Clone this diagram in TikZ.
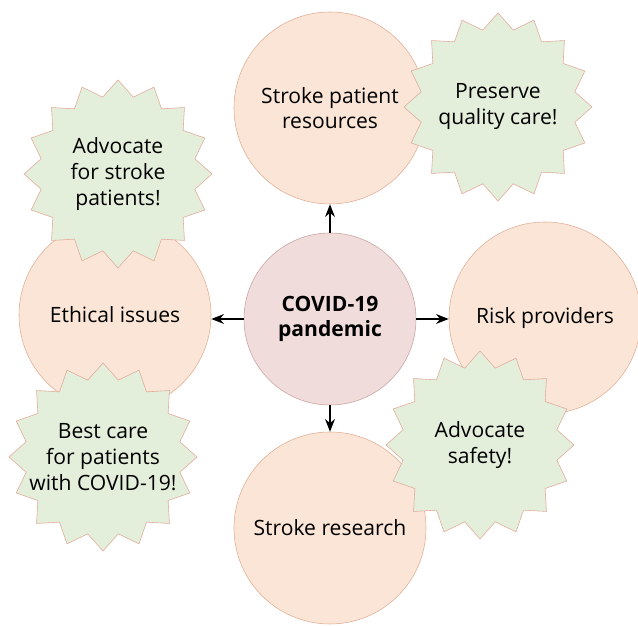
\documentclass[tikz,border=0pt]{standalone}
\usepackage{fontspec}
\setmainfont{Open Sans}
\usepackage{xcolor}
\usetikzlibrary{shapes.geometric, arrows.meta, positioning}

\definecolor{peachfill}{HTML}{FBE5D6}
\definecolor{peachline}{HTML}{E0AE95}
\definecolor{rosefill}{HTML}{F0DCDA}
\definecolor{roseline}{HTML}{C9A3A0}
\definecolor{leaffill}{HTML}{E3EEDB}
\definecolor{leafline}{HTML}{E2AA98}

\tikzset{
    topic/.style={circle, draw=peachline, fill=peachfill, minimum size=4.8cm, inner sep=0pt, align=center, font=\fontsize{15}{18}\selectfont},
    hub/.style={circle, draw=roseline, fill=rosefill, minimum size=4.3cm, inner sep=0pt, align=center, font=\fontsize{15}{18}\selectfont\bfseries},
    burst/.style={star, star points=16, star point ratio=1.2, draw=leafline, fill=leaffill, minimum size=4.7cm, inner sep=0pt},
    burstnote/.style={align=center, inner sep=0pt, font=\fontsize{15}{18.5}\selectfont},
    link/.style={-{Stealth[length=9pt, width=7pt]}, line width=0.9pt}
}

\begin{document}
\begin{tikzpicture}
    \useasboundingbox (0,0) rectangle (15.95,15.65);

    % Central topic
    \node[hub] (pandemic) at (8.25, 7.675) {COVID-19\\pandemic};

    % Surrounding topics
    \node[topic] (resources) at (8.25, 12.95) {Stroke patient\\resources};
    \node[topic] (ethics) at (2.875, 7.775) {Ethical issues};
    \node[topic] (risk) at (13.625, 7.7) {Risk providers};
    \node[topic] (research) at (8.25, 2.45) {Stroke research};

    % Call-outs (star first, text on top)
    \node[burst] (quality) at (12.45, 12.975) {};
    \node[burstnote] (qualitytext) at (quality) {Preserve\\quality care!};
    \node[burst] (advocate) at (2.95, 11.3) {};
    \node[burstnote] (advocatetext) at (advocate) {Advocate\\for stroke\\patients!};
    \node[burst] (bestcare) at (2.575, 4.225) {};
    \node[burstnote] (bestcaretext) at (bestcare) {Best care\\for patients\\with COVID-19!};
    \node[burst] (safety) at (12.0, 4.525) {};
    \node[burstnote] (safetytext) at (safety) {Advocate\\safety!};

    % Arrows out of the centre
    \draw[link] (pandemic.north) -- (resources.south);
    \draw[link] (pandemic.west) -- (pandemic.west -| ethics.east);
    \draw[link] (pandemic.east) -- (pandemic.east -| risk.west);
    \draw[link] (pandemic.south) -- (research.north);
\end{tikzpicture}
\end{document}
